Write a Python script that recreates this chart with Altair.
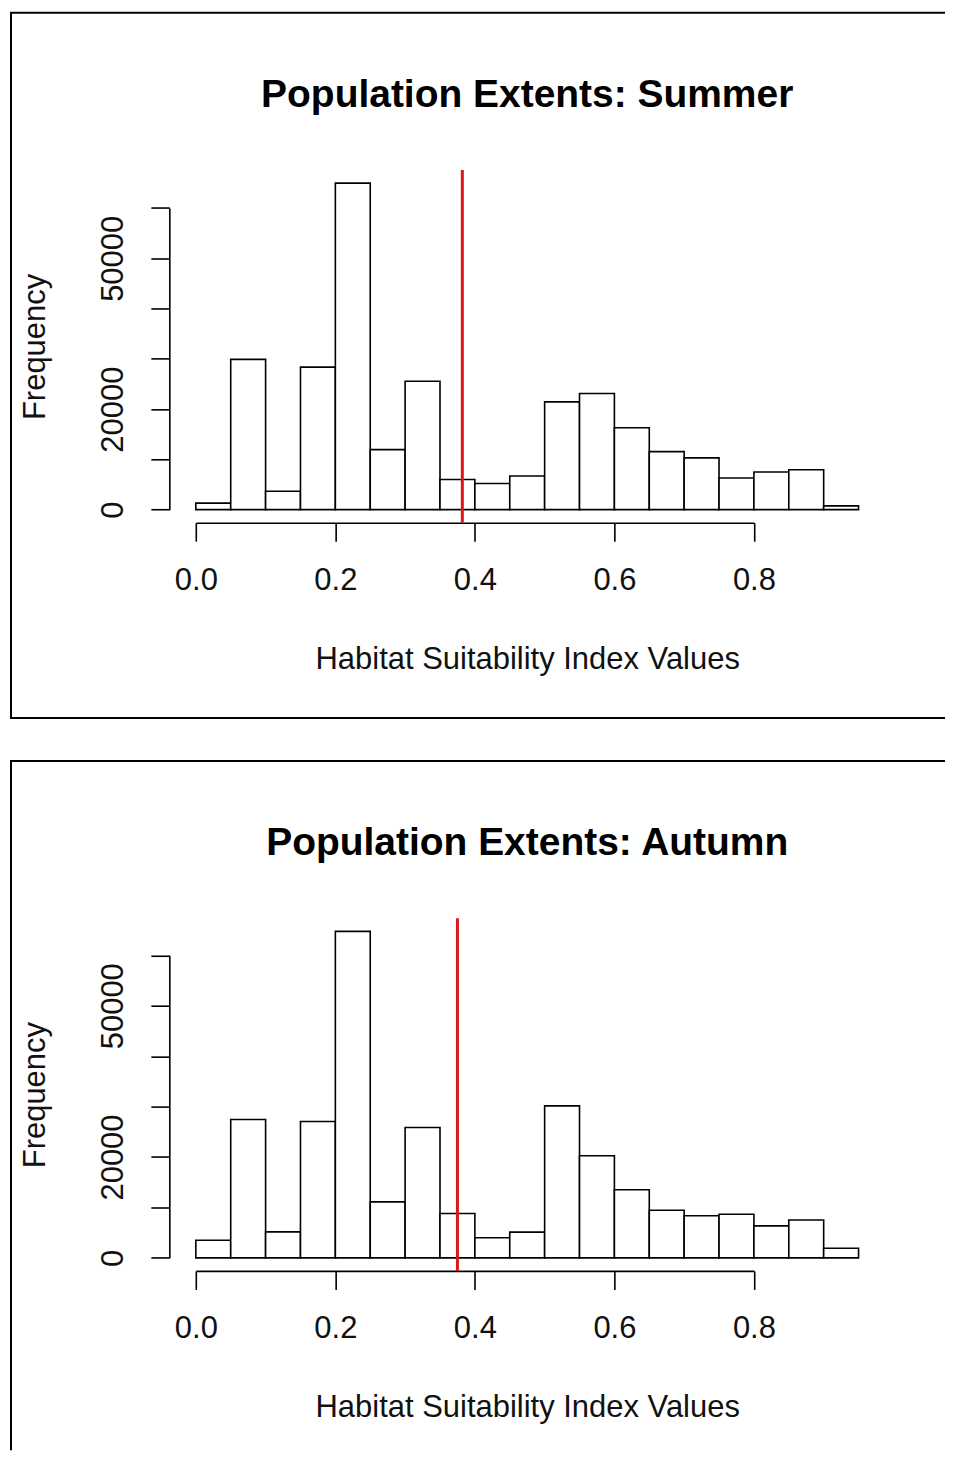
import altair as alt
import pandas as pd

# ---------------- data ----------------
BREAKS = [0.00, 0.05, 0.10, 0.15, 0.20, 0.25, 0.30, 0.35, 0.40, 0.45,
          0.50, 0.55, 0.60, 0.65, 0.70, 0.75, 0.80, 0.85, 0.90, 0.95]
SUMMER_COUNTS = [1300, 29900, 3650, 28350, 64950, 11950, 25550, 6000, 5200, 6700,
                 21450, 23100, 16300, 11550, 10300, 6300, 7500, 7950, 750]
AUTUMN_COUNTS = [3500, 27450, 5150, 27050, 64750, 11100, 25850, 8800, 4000, 5100,
                 30150, 20250, 13500, 9450, 8350, 8650, 6350, 7500, 1900]
SUMMER_CUTOFF = 0.382
AUTUMN_CUTOFF = 0.375
X_TICKS = [0.0, 0.2, 0.4, 0.6, 0.8]
Y_TICKS = [0, 10000, 20000, 30000, 40000, 50000, 60000]
Y_LABELS_SHOWN = [0, 20000, 50000]
TITLES = ["Population Extents: Summer", "Population Extents: Autumn"]
X_TITLE = "Habitat Suitability Index Values"
Y_TITLE = "Frequency"

# ---------------- layout (pixels inside each framed panel) ----------------
BOX_W = 935
BOX_H = [706, 690]          # the lower frame runs off the bottom of the page
REGION_LEFT, REGION_RIGHT = 158.5, 875
REGION_TOP, REGION_BOTTOM = 157.5, 510.5
FONT = "Liberation Sans"
TEXT = "#111111"
AXIS_FONT_SIZE = 31
TITLE_FONT_SIZE = 39


def panel(counts, cutoff, title, box_h, frame_dash):
    span_x = BREAKS[-1] - BREAKS[0]
    x_lo, x_hi = BREAKS[0] - 0.04 * span_x, BREAKS[-1] + 0.04 * span_x
    top = max(counts)
    y_lo, y_hi = -0.04 * top, 1.04 * top

    def xpx(v):
        return REGION_LEFT + (v - x_lo) / (x_hi - x_lo) * (REGION_RIGHT - REGION_LEFT)

    def ypx(v):
        return REGION_BOTTOM - (v - y_lo) / (y_hi - y_lo) * (REGION_BOTTOM - REGION_TOP)

    xs = alt.Scale(domain=[X_TICKS[0], X_TICKS[-1]],
                   range=[xpx(X_TICKS[0]), xpx(X_TICKS[-1])], nice=False, zero=False)
    ys = alt.Scale(domain=[Y_TICKS[0], Y_TICKS[-1]],
                   range=[ypx(Y_TICKS[0]), ypx(Y_TICKS[-1])], nice=False, zero=False)

    x_axis = alt.Axis(
        values=X_TICKS, format=".1f", title=X_TITLE, grid=False,
        offset=REGION_BOTTOM - box_h,
        domainColor="black", domainWidth=1.6, tickColor="black", tickWidth=1.6,
        tickSize=18.5, labelPadding=48.5, labelBaseline="alphabetic",
        labelFont=FONT, labelFontSize=AXIS_FONT_SIZE, labelColor=TEXT,
        labelFlush=False, labelOverlap=False,
        titleFont=FONT, titleFontSize=AXIS_FONT_SIZE, titleFontWeight="normal",
        titleColor=TEXT,
        titleX=(REGION_LEFT + REGION_RIGHT) / 2, titleY=146,
        titleAlign="center", titleBaseline="alphabetic",
    )
    y_axis = alt.Axis(
        values=Y_TICKS, format="d", title=Y_TITLE, grid=False,
        offset=-REGION_LEFT,
        labelExpr=f"indexof({Y_LABELS_SHOWN}, datum.value) >= 0 ? datum.label : ''",
        domainColor="black", domainWidth=1.6, tickColor="black", tickWidth=1.6,
        tickSize=18.5, labelPadding=28.5, labelAngle=270,
        labelAlign="center", labelBaseline="alphabetic",
        labelFont=FONT, labelFontSize=AXIS_FONT_SIZE, labelColor=TEXT,
        labelFlush=False, labelOverlap=False,
        titleFont=FONT, titleFontSize=AXIS_FONT_SIZE, titleFontWeight="normal",
        titleColor=TEXT,
        titleAngle=270, titleX=-124.5, titleY=(REGION_TOP + REGION_BOTTOM) / 2,
        titleAlign="center", titleBaseline="alphabetic",
    )

    bars = pd.DataFrame({"start": BREAKS[:-1], "end": BREAKS[1:], "count": counts})
    cut = pd.DataFrame({"cutoff": [cutoff], "lo": [y_lo], "hi": [y_hi]})

    hist = alt.Chart(bars).mark_rect(fill="white", stroke="black", strokeWidth=1.6).encode(
        x=alt.X("start:Q", scale=xs, axis=x_axis),
        x2="end:Q",
        y=alt.Y("count:Q", scale=ys, axis=y_axis),
        y2=alt.datum(0),
    )
    rule = alt.Chart(cut).mark_rule(color="#d91818", strokeWidth=3).encode(
        x=alt.X("cutoff:Q", scale=xs, axis=x_axis),
        y=alt.Y("lo:Q", scale=ys, axis=y_axis),
        y2="hi:Q",
    )
    return alt.layer(hist, rule).properties(
        width=BOX_W, height=box_h,
        view=alt.ViewBackground(stroke="black", strokeWidth=2, fill="white",
                                strokeDash=frame_dash),
        title=alt.TitleParams(
            text=title, font=FONT, fontSize=TITLE_FONT_SIZE, fontWeight="bold",
            color="black", anchor="middle", frame="group", orient="top",
            baseline="bottom", offset=-141,
            dx=(REGION_LEFT + REGION_RIGHT) / 2 - BOX_W / 2,
        ),
    )


W, H1, H2 = BOX_W, BOX_H[0], BOX_H[1]
chart = alt.vconcat(
    # frame: top, bottom and left edges drawn; right edge is off the page
    panel(SUMMER_COUNTS, SUMMER_CUTOFF, TITLES[0], H1, [W, H1, W + H1]),
    # frame: top and left edges only; right and bottom are off the page
    panel(AUTUMN_COUNTS, AUTUMN_CUTOFF, TITLES[1], H2, [W, H2 + W, H2]),
    spacing=41,
).properties(
    padding={"left": 2, "top": 3, "right": 0, "bottom": 0},
    background="white",
)

chart.save("out.html", embed_options={"renderer": "svg", "actions": False})
